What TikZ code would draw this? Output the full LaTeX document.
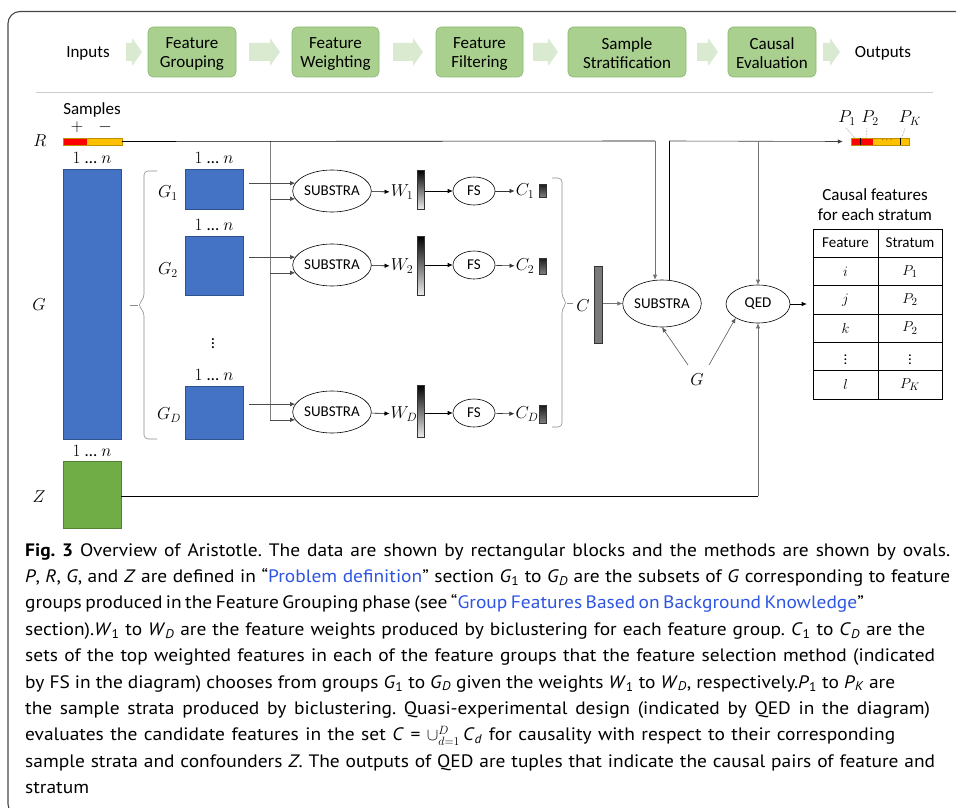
\documentclass[tikz,border=0pt]{standalone}
\usepackage{fontspec}
\setmainfont{Carlito}
\newfontfamily\capfont[FakeStretch=1.08]{PT Sans}
\usetikzlibrary{shapes.geometric,arrows.meta}
\definecolor{gblue}{RGB}{68,114,196}
\definecolor{gblueD}{RGB}{47,82,143}
\definecolor{zgreen}{RGB}{112,173,71}
\definecolor{zgreenD}{RGB}{84,130,53}
\definecolor{stepfill}{RGB}{169,208,142}
\definecolor{stepdraw}{RGB}{140,185,115}
\definecolor{chev}{RGB}{218,234,209}
\definecolor{rred}{RGB}{255,0,0}
\definecolor{rorange}{RGB}{255,192,0}
\definecolor{linkblue}{RGB}{45,85,225}
\definecolor{framecol}{RGB}{70,70,70}
\newcommand{\ci}[1]{\textit{#1}}
\newcommand{\sub}[2]{\textit{#1}\textsubscript{#2}}
\newcommand{\onen}{$1$\hspace{4.5pt}…\hspace{4.5pt}$n$}
\newcommand{\capline}[2]{\hbox to #1pt{#2}}
\begin{document}
\begin{tikzpicture}[x=1pt,y=-1pt,
  font=\fontsize{17}{19}\selectfont,
  stepbox/.style={draw=stepdraw, fill=stepfill, line width=0.6, rounded corners=5, minimum height=50, inner sep=0},
  steptext/.style={align=center, inner sep=0},
  blk/.style={draw=gblueD, fill=gblue, line width=0.4, inner sep=0, minimum width=58},
  zblk/.style={draw=zgreenD, fill=zgreen, line width=0.4, inner sep=0, minimum width=58},
  oval/.style={ellipse, draw, line width=0.6, inner sep=0, font=\fontsize{15}{18}\selectfont},
  mlab/.style={inner sep=1, font=\fontsize{17}{19}\selectfont},
  arr/.style={-{Latex[length=5,width=4.5]}, line width=0.6},
  wbar/.style={draw=black!80, line width=0.5, top color=black, bottom color=black!8, minimum width=7, inner sep=0},
  cbar/.style={draw=black!80, line width=0.5, top color=black!90, bottom color=black!50, minimum width=7, inner sep=0},
  cell/.style={draw, line width=0.6, minimum height=28.33, inner sep=0, font=\fontsize{15}{18}\selectfont},
  gl/.style={black!50},
]
\useasboundingbox (0,0) rectangle (956,808);
\begin{scope}
\clip (0,0) rectangle (956,808);
\draw[framecol, line width=1.1, rounded corners=12] (8,11.5) rectangle (990,816);
\end{scope}

% ---------- pipeline ----------
\node (inputs) at (88,53) {Inputs};
\node[stepbox, minimum width=88] (p1) at (192,52) {};
\node[stepbox, minimum width=87] (p2) at (335.5,52) {};
\node[stepbox, minimum width=87] (p3) at (479.5,52) {};
\node[stepbox, minimum width=118] (p4) at (627,52) {};
\node[stepbox, minimum width=88] (p5) at (772,52) {};
\node[steptext] (p1t) at ([yshift=-2.5]p1.center) {Feature\\Grouping};
\node[steptext] (p2t) at ([yshift=-2.5]p2.center) {Feature\\Weighting};
\node[steptext] (p3t) at ([yshift=-2.5]p3.center) {Feature\\Filtering};
\node[steptext] (p4t) at ([yshift=-1]p4.center) {Sample\\Stratification};
\node[steptext] (p5t) at ([yshift=-1]p5.center) {Causal\\Evaluation};
\node (outputs) at (883,53) {Outputs};
\foreach \a/\b in {126/142, 249/280, 393/423, 533/558, 697/718, 823/840}{
  \fill[chev] (\a,43) -- (\b-10,43) -- (\b-10,38) -- (\b,52) -- (\b-10,66) -- (\b-10,61) -- (\a,61) -- cycle;
}
\draw[black!20, line width=0.8] (36,92) -- (933,92);

% ---------- inputs R, G, Z ----------
\node (samples) at (92,110) {Samples};
\node[mlab] (plus) at (77,127) {$+$};
\node[mlab] (minus) at (105,127) {$-$};
\node[draw=rorange!75!black, fill=rorange, line width=0.4, minimum width=59, minimum height=7, inner sep=0] (Rbar) at (92.5,141.5) {};
\fill[rred] (Rbar.north west) rectangle ([xshift=24]Rbar.south west);
\draw[rorange!75!black, line width=0.4] (Rbar.north west) rectangle (Rbar.south east);
\node[mlab] (Rlab) at (40,141) {$R$};

\node[mlab] (n0) at (92,158) {\onen};
\node[blk, minimum height=270] (Gbig) at (92,304) {};
\node[mlab] (Glabbig) at (39,305) {$G$};

\node[mlab] (n4) at (92,451) {\onen};
\node[zblk, minimum height=67] (Zb) at (92,494.5) {};
\node[mlab] (Zlab) at (39,497) {$Z$};

% left brace
\draw[black!45, line width=0.6, rounded corners=4] (157,171) -- (144,171) -- (144,298) -- (138,305) -- (144,312) -- (144,439) -- (157,439);
\draw[black!45, line width=0.6] (130,305) -- (138,305);

% groups
\node[mlab] (n1) at (214,158) {\onen};
\node[blk, minimum height=40] (G1) at (214,189) {};
\node[mlab] (G1lab) at (168,193) {$G_1$};
\node[mlab] (n2) at (214,225) {\onen};
\node[blk, minimum height=59] (G2) at (214,265.5) {};
\node[mlab] (G2lab) at (168,270) {$G_2$};
\node[inner sep=0, font=\fontsize{17}{19}\selectfont] (vd) at (213,341) {$\vdots$};
\node[mlab] (n3) at (214,375) {\onen};
\node[blk, minimum height=53] (GD) at (214,412.5) {};
\node[mlab] (GDlab) at (169,415) {$G_D$};

% substra per group
\node[oval, minimum width=70, minimum height=42] (S1) at (332,191) {SUBSTRA};
\node[oval, minimum width=70, minimum height=42] (S2) at (332,265) {SUBSTRA};
\node[oval, minimum width=70, minimum height=42] (SD) at (332,412) {SUBSTRA};

\coordinate (vR) at (270,141);
\draw[gl, line width=0.6] (vR) -- (vR |- SD.192);
\draw[arr, black!70] ([xshift=6]G1.east |- S1.168) -- (S1.168);
\draw[arr, black!70] (vR |- S1.192) -- (S1.192);
\draw[arr, black!70] ([xshift=6]G2.east |- S2.168) -- (S2.168);
\draw[arr, black!70] (vR |- S2.192) -- (S2.192);
\draw[arr, black!70] ([xshift=6]GD.east |- SD.168) -- (SD.168);
\draw[arr, black!70] (vR |- SD.192) -- (SD.192);

% weights
\node[mlab] (W1) at (402,192) {$W_1$};
\node[mlab] (W2) at (402,266) {$W_2$};
\node[mlab] (WD) at (404,414) {$W_D$};
\node[wbar, minimum height=39] (W1b) at (421,189.5) {};
\node[wbar, minimum height=59] (W2b) at (421,265.5) {};
\node[wbar, minimum height=52] (WDb) at (421,411) {};
\draw[arr] (S1) -- (W1);
\draw[arr] (S2) -- (W2);
\draw[arr] (SD) -- (WD);

% FS
\node[oval, minimum width=42, minimum height=28] (FS1) at (474,191) {FS};
\node[oval, minimum width=42, minimum height=28] (FS2) at (474,265) {FS};
\node[oval, minimum width=42, minimum height=28] (FSD) at (474,413) {FS};
\draw[arr] (W1b.east |- FS1) -- (FS1);
\draw[arr] (W2b.east |- FS2) -- (FS2);
\draw[arr] (WDb.east |- FSD) -- (FSD);

% C
\node[mlab] (C1) at (525,191) {$C_1$};
\node[mlab] (C2) at (525,266) {$C_2$};
\node[mlab] (CD) at (527,414) {$C_D$};
\draw[arr, black!80] (FS1) -- (C1);
\draw[arr, black!80] (FS2) -- (C2);
\draw[arr, black!80] (FSD) -- (CD);
\node[cbar, minimum height=13] (C1b) at (543,190.5) {};
\node[cbar, minimum height=16] (C2b) at (543,266) {};
\node[cbar, minimum height=18] (CDb) at (543,414) {};

% right brace
\draw[black!45, line width=0.6, rounded corners=4] (552,178) -- (562,178) -- (562,297) -- (567,303) -- (562,309) -- (562,427) -- (552,427);
\draw[black!45, line width=0.6] (567,303) -- (573,303);

\node[mlab] (Clab) at (583,306) {$C$};
\node[draw=black!80, fill=black!52, line width=0.5, minimum width=8, minimum height=77, inner sep=0] (Cb) at (598.5,304.5) {};

% big substra, QED
\node[oval, minimum width=70, minimum height=47] (SB) at (662,303.5) {SUBSTRA};
\node[oval, minimum width=64, minimum height=38] (QED) at (758,304) {QED};
\draw[arr, black!55] (Cb.east |- SB) -- (SB);

\coordinate (rc) at (655,141);
\coordinate (oc) at (669,141);
\coordinate (qc) at (758,141);
\draw[line width=0.6] (Rbar.east) -- (rc);
\draw[arr, black!55] (rc) -- (rc |- SB.north);
\draw[line width=0.6] (oc |- SB.north) -- (oc);

% P strata bar
\node[draw=rorange!75!black, fill=rorange, line width=0.4, minimum width=58, minimum height=7, inner sep=0] (Pbar) at (880,141.5) {};
\fill[rred] (Pbar.north west) rectangle ([xshift=22]Pbar.south west);
\draw[rorange!75!black, line width=0.4] (Pbar.north west) rectangle (Pbar.south east);
\draw[line width=1] ([xshift=10]Pbar.north west) -- ([xshift=10]Pbar.south west);
\draw[line width=1] ([xshift=50]Pbar.north west) -- ([xshift=50]Pbar.south west);
\node[inner sep=0, font=\fontsize{9}{9}\selectfont] (Pdots) at (887,140.5) {$\cdots$};
\draw[arr, black!75] (oc) -- ([xshift=-8]Pbar.west);
\node[mlab] (P1) at (847,118) {$P_1$};
\node[mlab] (P2) at (870,118) {$P_2$};
\node[mlab] (PK) at (910,118) {$P_K$};
\draw[densely dotted, black!60, line width=0.5] ([shift={(-1,2)}]P1.south) -- ([xshift=4]Pbar.north west);
\draw[densely dotted, black!60, line width=0.5] ([shift={(-3,2)}]P2.south) -- ([xshift=15]Pbar.north west);
\draw[densely dotted, black!60, line width=0.5] ([shift={(-5,2)}]PK.south) -- ([xshift=51]Pbar.north west);

% QED inputs
\draw[arr, black!55] (qc) -- (QED.north);
\coordinate (zc) at (758,496);
\draw[line width=0.6] (Zb.east |- zc) -- (zc);
\draw[arr, black!55] (zc) -- (QED.south);

% G to SUBSTRA / QED
\node[mlab] (Glab) at (697,380) {$G$};
\draw[arr, black!65] ([shift={(-9,-15)}]Glab.center) -- (SB.south);
\draw[arr, black!65] ([shift={(12,-15)}]Glab.center) -- (QED.212);

% table
\node[align=center, font=\fontsize{17}{20}\selectfont] (ttl) at (875,205) {Causal features\\for each stratum};
\foreach \r/\a/\b in {0/Feature/Stratum, 1/$i$/$P_1$, 2/$j$/$P_2$, 3/$k$/$P_2$, 4/$\vdots$/$\vdots$, 5/$l$/$P_K$}{
  \node[cell, minimum width=65] (c\r a) at (845.5,{229+28.33*(\r+0.5)}) {\a};
  \node[cell, minimum width=64] (c\r b) at (910,{229+28.33*(\r+0.5)}) {\b};
}
\draw[arr] (QED) -- ([xshift=-6]QED -| c2a.west);

% caption
\node[anchor=north west, align=left, inner sep=0, font=\capfont\frenchspacing\fontsize{18}{26.4}\selectfont] (cap) at (25,543) {%
\capline{925}{{\bfseries Fig. 3}\hspace{7pt}Overview of Aristotle. The data are shown by rectangular blocks and the methods are shown by ovals.}\\
\capline{925}{\ci{P}, \ci{R}, \ci{G}, and \ci{Z} are defined in “\textcolor{linkblue}{Problem definition}” section \sub{G}{1} to \sub{G}{\ci{D}} are the subsets of \ci{G} corresponding to feature}\\
\capline{838}{groups produced in the Feature Grouping phase (see “\textcolor{linkblue}{Group Features Based on Background Knowledge}”}\\
\capline{900}{section).\sub{W}{1} to \sub{W}{\ci{D}} are the feature weights produced by biclustering for each feature group. \sub{C}{1} to \sub{C}{\ci{D}} are the}\\
\capline{910}{sets of the top weighted features in each of the feature groups that the feature selection method (indicated}\\
\capline{870}{by FS in the diagram) chooses from groups \sub{G}{1} to \sub{G}{\ci{D}} given the weights \sub{W}{1} to \sub{W}{\ci{D}}, respectively.\sub{P}{1} to \sub{P}{\ci{K}} are}\\
\capline{905}{the sample strata produced by biclustering. Quasi-experimental design (indicated by QED in the diagram)}\\
\capline{870}{evaluates the candidate features in the set \ci{C} = $\cup_{d=1}^{D}$\,\sub{C}{\ci{d}} for causality with respect to their corresponding}\\
\capline{910}{sample strata and confounders \ci{Z}. The outputs of QED are tuples that indicate the causal pairs of feature and}\\
stratum};
\end{tikzpicture}
\end{document}
